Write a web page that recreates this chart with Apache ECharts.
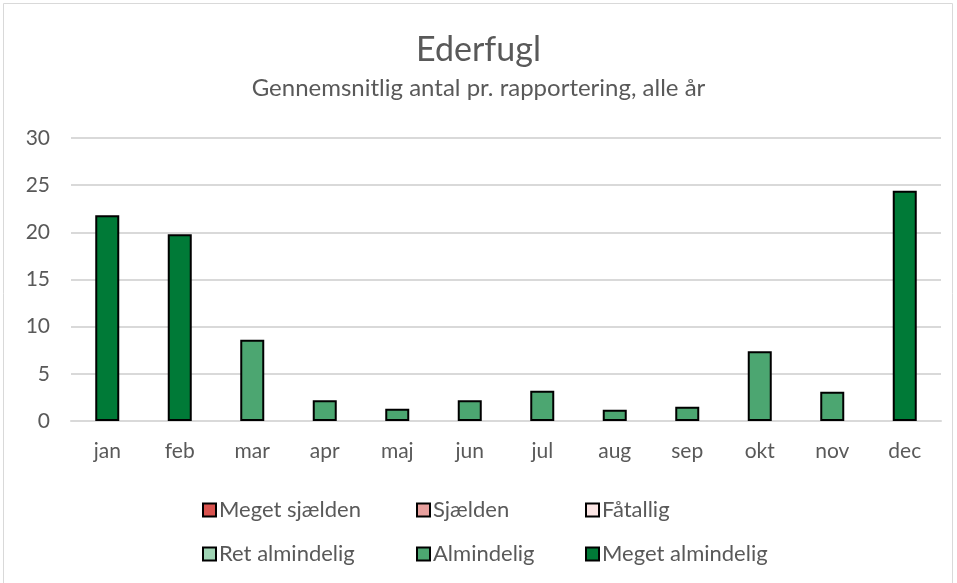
<!DOCTYPE html>
<html>
<head>
<meta charset="utf-8">
<script src="https://cdn.jsdelivr.net/npm/echarts@6/dist/echarts.min.js"></script>
<style>
  html, body { margin: 0; padding: 0; background: #fff; }
  #chart { width: 957px; height: 583px; }
</style>
</head>
<body>
<div id="chart"></div>
<script>
// months and average count per report
var months = ['jan', 'feb', 'mar', 'apr', 'maj', 'jun', 'jul', 'aug', 'sep', 'okt', 'nov', 'dec'];
var values = [21.8, 19.8, 8.6, 2.2, 1.3, 2.2, 3.2, 1.2, 1.5, 7.4, 3.1, 24.4];
// abundance class of each month (index into classNames)
var monthClass = [5, 5, 4, 4, 4, 4, 4, 4, 4, 4, 4, 5];
var classNames = ['Meget sjælden', 'Sjælden', 'Fåtallig', 'Ret almindelig', 'Almindelig', 'Meget almindelig'];
var classColors = ['#d9534f', '#e8a09e', '#fbe5e4', '#9fd4b4', '#4ca671', '#007a37'];
var yTicks = [0, 5, 10, 15, 20, 25, 30];

var font = 'Lato, "Open Sans", sans-serif';
var textColor = '#595959';

var series = classNames.map(function(name, c) {
    return {
        name: name,
        type: 'bar',
        stack: 'all',
        barWidth: 24,
        itemStyle: {
            color: classColors[c],
            borderColor: '#000',
            borderWidth: 2
        },
        data: values.map(function(v, i) {
            return monthClass[i] === c ? v : null;
        })
    };
});

// legend laid out in 3 columns x 2 rows like the Excel original
var legendLeft = [197, 411, 580];
var legendTop = [494, 538];
var legends = classNames.map(function(name, c) {
    return {
        data: [name],
        left: legendLeft[c % 3],
        top: legendTop[Math.floor(c / 3)],
        itemWidth: 13,
        itemHeight: 13,
        itemGap: 4,
        icon: 'rect',
        selectedMode: false,
        itemStyle: { borderColor: '#000', borderWidth: 2 },
        textStyle: { color: textColor, fontSize: 22, fontFamily: font, padding: [0, 0, 0, -2] }
    };
});

var option = {
    animation: false,
    title: {
        text: 'Ederfugl',
        subtext: 'Gennemsnitlig antal pr. rapportering, alle år',
        left: 'center',
        top: 28,
        itemGap: 9,
        textStyle: { color: textColor, fontSize: 34, fontWeight: 'normal', fontFamily: font },
        subtextStyle: { color: textColor, fontSize: 24, fontFamily: font }
    },
    legend: legends,
    graphic: [{
        type: 'rect',
        shape: { x: 3.5, y: 3.5, width: 949, height: 600 },
        style: { fill: 'none', stroke: '#d9d9d9', lineWidth: 1 }
    }],
    grid: {
        left: 71,
        right: 16,
        top: 138,
        bottom: 162
    },
    xAxis: {
        type: 'category',
        data: months,
        axisTick: { show: false },
        axisLine: { lineStyle: { color: '#d9d9d9', width: 2 } },
        axisLabel: { color: textColor, fontSize: 21, fontFamily: font, margin: 20 }
    },
    yAxis: {
        type: 'value',
        min: yTicks[0],
        max: yTicks[yTicks.length - 1],
        interval: 5,
        axisLine: { show: false },
        axisTick: { show: false },
        axisLabel: { color: textColor, fontSize: 21, fontFamily: font, margin: 21 },
        splitLine: { lineStyle: { color: '#d9d9d9', width: 2 } }
    },
    series: series
};

var myChart = echarts.init(document.getElementById('chart'));
myChart.setOption(option);
</script>
</body>
</html>
